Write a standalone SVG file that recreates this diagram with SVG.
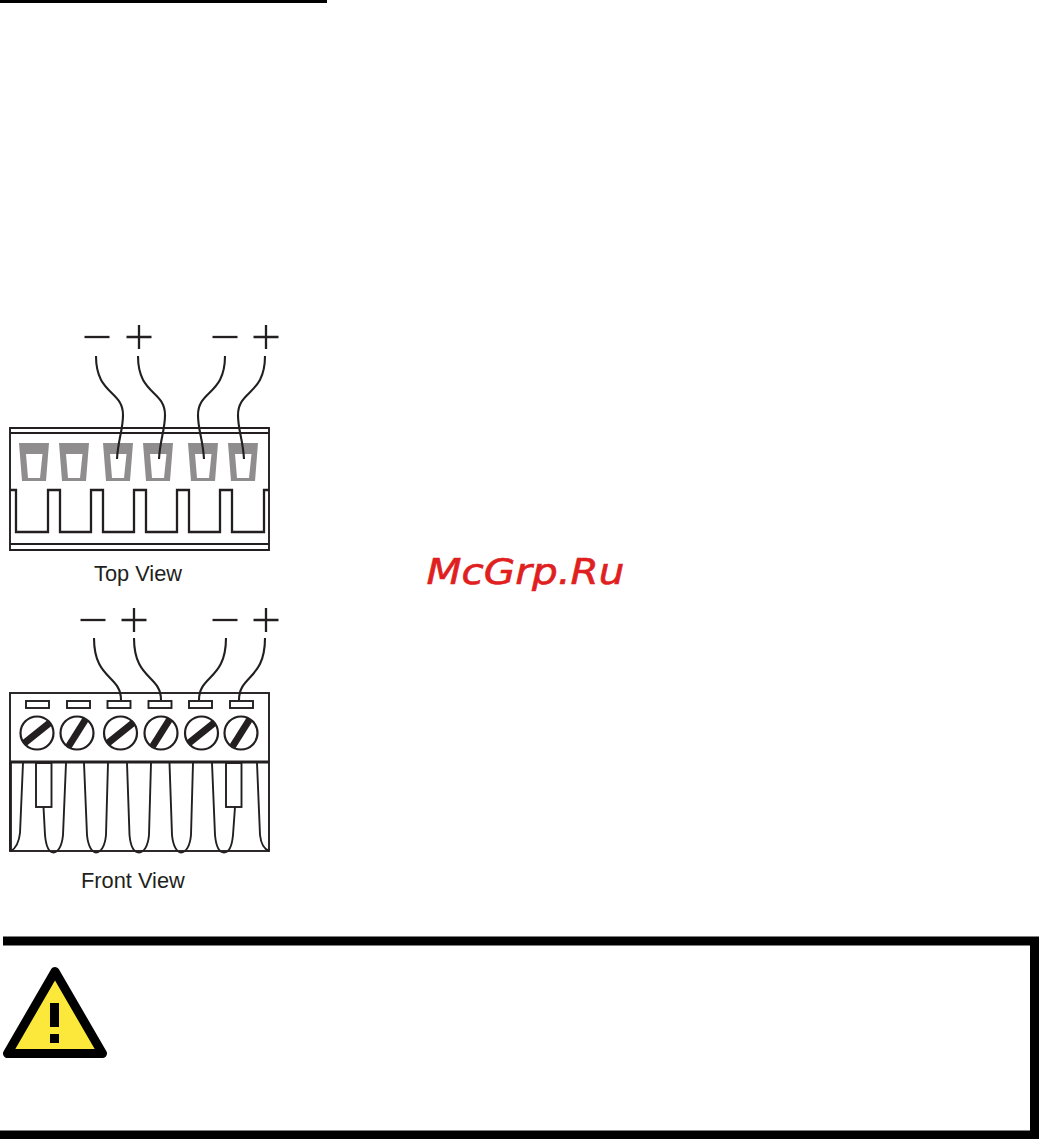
<svg xmlns="http://www.w3.org/2000/svg" width="1039" height="1139" viewBox="0 0 1039 1139">
<style>
.ln{fill:none;stroke:#231f20;stroke-width:1.9}
.th{fill:none;stroke:#231f20;stroke-width:2.3}
.w{fill:none;stroke:#231f20;stroke-width:2.1}
.lb{font-family:"Liberation Sans",Arial,sans-serif;font-size:21.8px;fill:#231f20}
.port{fill:#8f8d8e;fill-rule:evenodd}
.slot{fill:#fff;stroke:#231f20;stroke-width:1.9}
.scr{fill:#fff;stroke:#231f20;stroke-width:2.2}
.sl{stroke:#231f20;stroke-width:7;fill:none}
</style>
<defs>
<path id="port" class="port" d="M-15 443H15L12 481H-12ZM-8 454L-6 478H6L8.500 454Z"/>
<path id="sign-minus" class="th" d="M-12.500 0H12.500"/>
<path id="sign-plus" class="th" d="M-12.500 0H12.500M0 -12V12"/>
<g id="scr1"><circle class="scr" r="16.500"/><path class="sl" d="M-12.500 10L12.500 -10"/></g>
<g id="scr2"><circle class="scr" r="16.500"/><path class="sl" d="M-8.500 13.500L8.500 -13.500"/></g>
</defs>
<rect width="1039" height="1139" fill="#fff"/>
<rect id="rule" x="0" y="0" width="327" height="3" fill="#000"/>

<g id="top-view">
<path class="ln" d="M10 428H269V550H10ZM10 433H269M10 544H269"/>
<path class="th" d="M10 490H16V532H48V490H60V532H91V490H103V532H134V490H146V532H177V490H189V532H220V490H232V532H264V490H269"/>
<use href="#port" x="34"/><use href="#port" x="74"/><use href="#port" x="118"/><use href="#port" x="158"/><use href="#port" x="203"/><use href="#port" x="243"/>
<use href="#sign-minus" x="97" y="337"/><use href="#sign-plus" x="139" y="337"/><use href="#sign-minus" x="225" y="337"/><use href="#sign-plus" x="266" y="337"/>
<text class="lb" x="94" y="581">Top View</text>
</g>

<g id="front-view">
<rect class="ln" x="10" y="693" width="259" height="158"/>
<path d="M10 762H269" stroke="#231f20" stroke-width="2.800" fill="none"/>
<path d="M10.500 762V851" stroke="#231f20" stroke-width="2.800" fill="none"/>
<g class="slot"><rect x="26" y="701" width="23" height="7"/><rect x="67" y="701" width="23" height="7"/><rect x="107.500" y="701" width="23" height="7"/><rect x="148.500" y="701" width="23" height="7"/><rect x="189" y="701" width="23" height="7"/><rect x="230" y="701" width="23" height="7"/></g>
<use href="#scr1" x="37" y="733"/><use href="#scr2" x="77" y="733"/><use href="#scr1" x="120.500" y="733"/><use href="#scr2" x="161" y="733"/><use href="#scr1" x="201.500" y="733"/><use href="#scr2" x="241" y="733"/>
<rect class="ln" x="36" y="763" width="15.500" height="44" fill="#fff"/>
<rect class="ln" x="226" y="763" width="15.500" height="44" fill="#fff"/>
<path class="ln" d="M23 763L20 833C19 842 16 848 11 851"/>
<path class="ln" d="M43.500 807L45 835C46 846 49 852.500 53.500 852.500C58 852.500 62 846 63 835L66 763"/>
<path class="ln" d="M84 763L87 835C88 846 92 852.500 96 852.500C101 852.500 105 846 106 835L108 763"/>
<path class="ln" d="M127 763L129.500 835C130.500 846 134 852.500 139 852.500C144 852.500 148 846 149 835L151 763"/>
<path class="ln" d="M169.500 763L172 835C173 846 177 852.500 181 852.500C186 852.500 190 846 191 835L193 763"/>
<path class="ln" d="M212 763L215 835C216 846 219 852.500 224 852.500C229 852.500 232 846 233 835L235 807"/>
<path class="ln" d="M257 763L260 835C261 844 264 849 269 851"/>
<use href="#sign-minus" x="93" y="620"/><use href="#sign-plus" x="134" y="620"/><use href="#sign-minus" x="225" y="620"/><use href="#sign-plus" x="266" y="620"/>
<text class="lb" x="81" y="888">Front View</text>
</g>

<g id="connectors">
<path class="w" d="M96 356C96 395 123 390 123 415C123 430 118 440 117 459"/>
<path class="w" d="M138 356C138 395 165 390 165 415C165 430 160 440 159 459"/>
<path class="w" d="M225 356C225 395 198 390 198 415C198 430 203 440 204 459"/>
<path class="w" d="M265 356C265 395 238 390 238 415C238 430 243 440 244 459"/>
<path class="w" d="M94 638C94 680 121 675 121 700"/>
<path class="w" d="M134 638C134 680 161 675 161 700"/>
<path class="w" d="M226 638C226 680 199 675 199 700"/>
<path class="w" d="M265 638C265 680 239 675 239 700"/>
</g>

<text id="watermark" transform="translate(426.500 584) scale(1.127 1)" font-family="DejaVu Sans,sans-serif" font-style="oblique" font-size="36" fill="#e02020" stroke="#e02020" stroke-width="0.6">McGrp.Ru</text>

<g id="warning">
<path d="M3 941H1034.500V1135H0" fill="none" stroke="#000" stroke-width="9"/>
<path d="M55 971.500L7.500 1053.500H102.500Z" fill="#fce83a" stroke="#000" stroke-width="9" stroke-linejoin="round"/>
<rect x="50" y="1003" width="9" height="24" fill="#000"/>
<rect x="50" y="1034" width="9" height="9" fill="#000"/>
</g>
</svg>
